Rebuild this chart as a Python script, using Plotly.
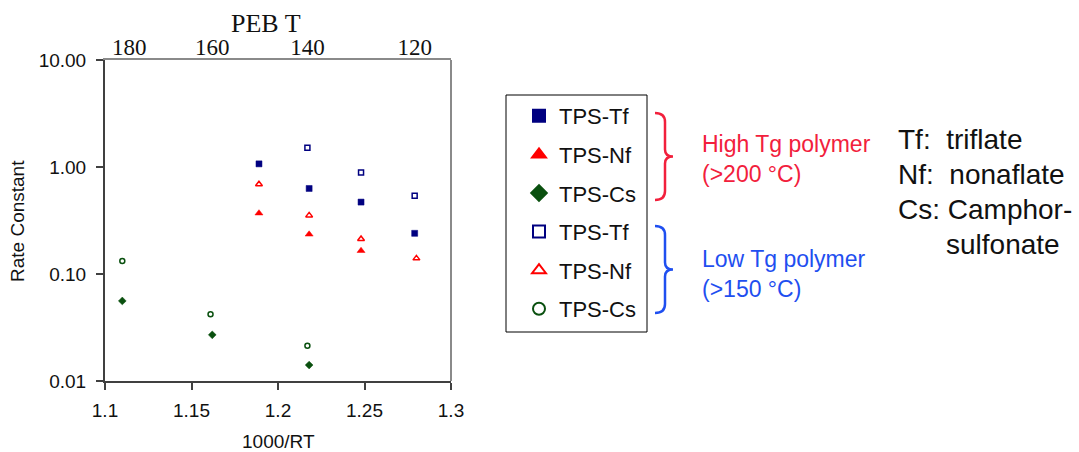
import plotly.graph_objects as go

# ---------------- data ----------------
tf_high_x = [1.189, 1.218, 1.248, 1.279]
tf_high_y = [1.07, 0.63, 0.47, 0.24]
nf_high_x = [1.189, 1.218, 1.248]
nf_high_y = [0.37, 0.235, 0.165]
cs_high_x = [1.110, 1.162, 1.218]
cs_high_y = [0.056, 0.027, 0.0141]
tf_low_x = [1.217, 1.248, 1.279]
tf_low_y = [1.51, 0.89, 0.54]
nf_low_x = [1.189, 1.218, 1.248, 1.280]
nf_low_y = [0.69, 0.353, 0.212, 0.140]
cs_low_x = [1.110, 1.161, 1.217]
cs_low_y = [0.132, 0.042, 0.0214]

x_tick_vals = [1.1, 1.15, 1.2, 1.25, 1.3]
x_tick_text = ["1.1", "1.15", "1.2", "1.25", "1.3"]
y_tick_vals = [0.01, 0.1, 1, 10]
y_tick_text = ["0.01", "0.10", "1.00", "10.00"]
top_tick_vals = [1.114, 1.162, 1.217, 1.279]
top_tick_text = ["180", "160", "140", "120"]

# ---------------- geometry helpers ----------------
FIG_W, FIG_H = 1079, 452
L, R, T, B = 105, 451, 60, 381
PW, PH = R - L, B - T


def xp(px):
    return (px - L) / PW


def yp(py):
    return (B - py) / PH


SANS = "Arial, Liberation Sans, sans-serif"
SERIF = "Times New Roman, Liberation Serif, serif"
NAVY = "#000080"
RED = "#ff0000"
GREEN = "#0a500f"
DARK = "#404040"
GREY = "#8a8a8a"

fig = go.Figure()


def add(x, y, name, symbol, color, size, lw, group):
    fig.add_trace(go.Scatter(
        x=x, y=y, mode="markers", name=name, legendgroup=group,
        marker=dict(symbol=symbol, color=color, size=size,
                    line=dict(color=color, width=lw)),
    ))


add(tf_high_x, tf_high_y, "TPS-Tf", "square", NAVY, 6, 0.5, "g1")
add(nf_high_x, nf_high_y, "TPS-Nf", "triangle-up", RED, 7, 0.5, "g2")
add(cs_high_x, cs_high_y, "TPS-Cs", "diamond", GREEN, 6, 0.5, "g3")
add(tf_low_x, tf_low_y, "TPS-Tf", "square-open", NAVY, 5, 1.5, "g4")
add(nf_low_x, nf_low_y, "TPS-Nf", "triangle-up-open", RED, 6, 1.5, "g5")
add(cs_low_x, cs_low_y, "TPS-Cs", "circle-open", GREEN, 5, 1.5, "g6")

# empty trace to carry the top axis
fig.add_trace(go.Scatter(x=[], y=[], xaxis="x2", showlegend=False))

fig.update_layout(
    width=FIG_W, height=FIG_H, autosize=False,
    margin=dict(l=L, r=FIG_W - R, t=T, b=FIG_H - B, pad=0),
    paper_bgcolor="white", plot_bgcolor="white",
    font=dict(family=SANS, color="#111111"),
    showlegend=True,
    legend=dict(
        x=xp(519), y=yp(95), xanchor="left", yanchor="top",
        font=dict(family=SANS, size=22, color="#111111"),
        bgcolor="rgba(0,0,0,0)", borderwidth=0,
        traceorder="grouped", tracegroupgap=7, itemsizing="constant",
    ),
    xaxis=dict(
        range=[1.1, 1.3], tickvals=x_tick_vals, ticktext=x_tick_text,
        ticks="outside", ticklen=7, tickwidth=1.5, tickcolor=DARK,
        showline=True, linecolor=DARK, linewidth=2,
        showgrid=False, zeroline=False,
        tickfont=dict(family=SANS, size=19, color="#111111"),
        ticklabelstandoff=4,
    ),
    xaxis2=dict(
        range=[1.1, 1.3], overlaying="x", side="top",
        tickvals=top_tick_vals, ticktext=top_tick_text,
        ticks="", showline=True, linecolor=GREY, linewidth=2,
        showgrid=False, zeroline=False,
        tickfont=dict(family=SERIF, size=23, color="#111111"),
        ticklabelstandoff=-6,
    ),
    yaxis=dict(
        type="log", range=[-2, 1], tickvals=y_tick_vals, ticktext=y_tick_text,
        ticks="outside", ticklen=7, tickwidth=1.5, tickcolor=DARK,
        showline=True, linecolor=DARK, linewidth=2,
        showgrid=False, zeroline=False,
        tickfont=dict(family=SANS, size=19, color="#111111"),
        ticklabelstandoff=6,
    ),
)

shapes = []
# right frame line
shapes.append(dict(type="line", xref="paper", yref="paper", x0=1, x1=1, y0=0, y1=1,
                   line=dict(color=GREY, width=2)))
# legend box
shapes.append(dict(type="rect", xref="paper", yref="paper",
                   x0=xp(506), x1=xp(647), y0=yp(95), y1=yp(332),
                   line=dict(color="#000000", width=1)))


def brace(y0, y1, color):
    x0, xs, xt = 655, 665, 673
    ym = (y0 + y1) / 2
    pts = [
        ("M", [(x0, y0)]),
        ("Q", [(xs, y0), (xs, y0 + 9)]),
        ("L", [(xs, ym - 7)]),
        ("Q", [(xs, ym), (xt, ym)]),
        ("Q", [(xs, ym), (xs, ym + 7)]),
        ("L", [(xs, y1 - 9)]),
        ("Q", [(xs, y1), (x0, y1)]),
    ]
    path = " ".join(
        cmd + " " + " ".join(f"{xp(a):.5f},{yp(b):.5f}" for a, b in p) for cmd, p in pts
    )
    return dict(type="path", xref="paper", yref="paper", path=path,
                line=dict(color=color, width=2.5))


RED_T = "#f2203c"
BLUE_T = "#1f4ff0"
shapes.append(brace(113, 200, RED_T))
shapes.append(brace(226, 313, BLUE_T))
fig.update_layout(shapes=shapes)

ann = []


def text(s, x, y, size, color="#111111", family=SANS, xanchor="left", angle=0):
    ann.append(dict(text=s, x=xp(x), y=yp(y), xref="paper", yref="paper",
                    xanchor=xanchor, yanchor="middle", showarrow=False,
                    textangle=angle, align="left",
                    font=dict(family=family, size=size, color=color)))


text("Rate Constant", 18, 221, 19, xanchor="center", angle=-90)
text("1000/RT", 278, 441, 19, xanchor="center")
text("PEB T", 266, 23, 26, family=SERIF, xanchor="center")
text("High Tg polymer<br>(>200 °C)", 700, 159, 23, color=RED_T)
text("Low Tg polymer<br>(>150 °C)", 700, 274, 23, color=BLUE_T)
text("Tf:\u00a0 triflate", 896, 139, 28)
text("Nf:\u00a0 nonaflate", 896, 174, 28)
text("Cs: Camphor-", 896, 209, 28)
text("sulfonate", 944, 244, 28)
fig.update_layout(annotations=ann)

fig.write_html("out.html", config={"displayModeBar": False},
               post_script="document.body.style.margin='0';")
